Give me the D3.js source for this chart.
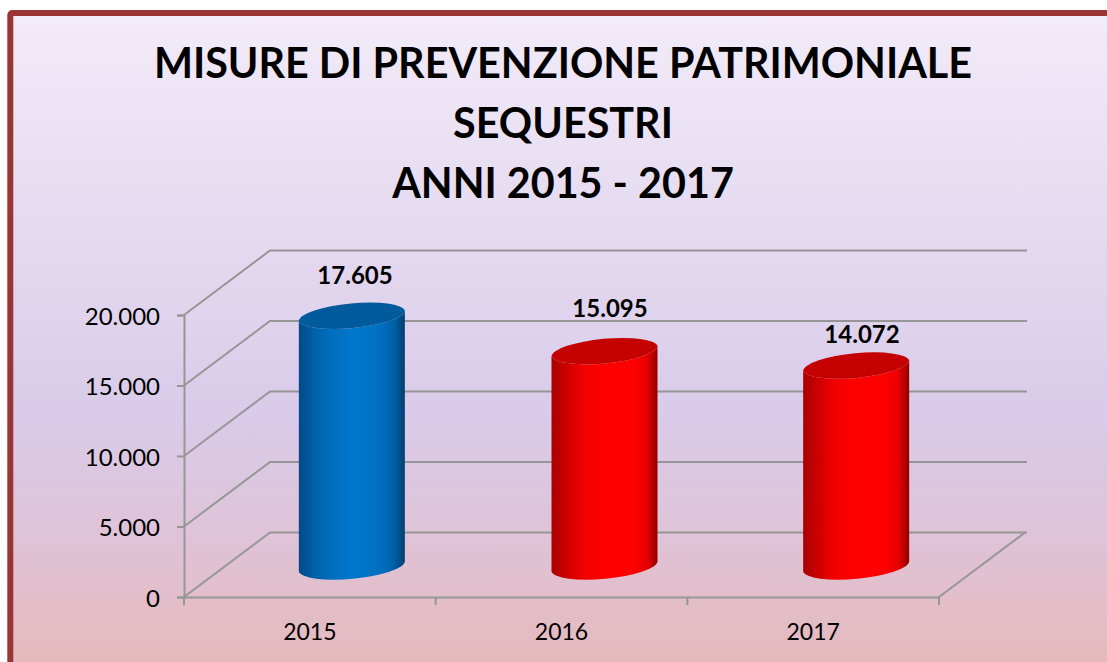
<!DOCTYPE html>
<html><head><meta charset="utf-8">
<script src="https://cdn.jsdelivr.net/npm/d3@7"></script>
<style>html,body{margin:0;padding:0;background:#fff}svg{display:block}text{font-family:Lato,sans-serif}</style>
</head><body><svg id="c" width="1107" height="662"></svg>
<script>
const categories = ["2015","2016","2017"];
const values = [17605,15095,14072];
const valueLabels = ["17.605","15.095","14.072"];
const barColors = ["blue","red","red"];
const yTicks = [0,5000,10000,15000,20000];
const titleLines = ["MISURE DI PREVENZIONE PATRIMONIALE","SEQUESTRI","ANNI 2015 - 2017"];

const svg = d3.select("#c");
const defs = svg.append("defs");
const bg = defs.append("linearGradient").attr("id","bg").attr("x1",0).attr("x2",0).attr("y1",0).attr("y2",1);
[[0,"#f2ebf8"],[0.25,"#e8def2"],[0.6,"#d9cbe9"],[0.78,"#dfc3d8"],[1,"#e6b8b8"]].forEach(s=>bg.append("stop").attr("offset",s[0]).attr("stop-color",s[1]));
const ramps = {
 blue:["#024a86","#0060a8","#006ebd","#0077cc","#006fc0","#0060a6","#023f6e"],
 red:["#a80000","#cc0000","#f20000","#ff0000","#ff0000","#e60000","#900000"]
};
const tops = {blue:"#015a9c",red:"#c40000"};
Object.keys(ramps).forEach(k=>{
  const g = defs.append("linearGradient").attr("id","g-"+k);
  const off=[0,0.14,0.3,0.5,0.78,0.9,1];
  ramps[k].forEach((c,i)=>g.append("stop").attr("offset",off[i]).attr("stop-color",c));
});

svg.append("rect").attr("x",10.3).attr("y",13).attr("width",1110).attr("height",670).attr("rx",2)
  .attr("fill","url(#bg)").attr("stroke","#9b3535").attr("stroke-width",6);

const title = svg.append("g").attr("font-weight",700).attr("font-size",41.3).attr("fill","#000").attr("text-anchor","middle");
titleLines.forEach((t,i)=>title.append("text").attr("x",563).attr("y",[78,138,198][i]).text(t));

const y = d3.scaleLinear().domain([0,20000]).range([597,315]);
const x = d3.scaleBand().domain(categories).range([184,939]);
const depthX = 86, depthY = -64.5;
const grey = "#969696";
const fmt = v => d3.format(",")(v).replace(/,/g,".");

const grid = svg.append("g").attr("stroke",grey).attr("stroke-width",2).attr("fill","none");
yTicks.forEach(v=>{
  grid.append("path").attr("d",d3.line()([[184,y(v)],[184+depthX,y(v)+depthY],[1027,y(v)+depthY]]));
});
grid.append("path").attr("d",d3.line()([[939,y(0)],[939+depthX,y(0)+depthY]]));

const yAxis = d3.axisLeft(y).tickValues(yTicks).tickFormat(fmt).tickSize(7).tickPadding(17);
const gy = svg.append("g").attr("transform","translate(184,0)").call(yAxis);
gy.selectAll("text").attr("transform","translate(0,1.5)");
const xAxis = d3.axisBottom(x).tickValues([]).tickSize(0);
const gx = svg.append("g").attr("transform","translate(0,597)").call(xAxis);
[gy,gx].forEach(g=>{g.selectAll("path,line").attr("stroke",grey).attr("stroke-width",2);g.selectAll("text").attr("font-size",24).attr("fill","#000").attr("font-family","Lato,sans-serif");});
const xt = svg.append("g");
x.domain().concat(["end"]).forEach((c,i)=>{
  const px = c==="end"? x.range()[1] : x(c);
  xt.append("line").attr("x1",px).attr("x2",px).attr("y1",597).attr("y2",605).attr("stroke",grey).attr("stroke-width",2);
});
categories.forEach(c=>svg.append("text").attr("x",x(c)+x.bandwidth()/2).attr("y",640).attr("text-anchor","middle").attr("font-size",23).attr("fill","#000").text(c));

const halfW = 53, rx = 53.3, ry = 13, rot = -5.4, tilt = 5;
const labelY = [284,317,343];
const labelX = [355,610,862];
const bars = svg.append("g");
categories.forEach((c,i)=>{
  const cx = x(c)+x.bandwidth()/2+42+(i?1:0);
  const by = y(0)-30.5, ty = y(values[i])-33;
  const L = cx-halfW, R = cx+halfW;
  const arc = `A${rx} ${ry} ${rot} 0 `;
  bars.append("path").attr("fill",`url(#g-${barColors[i]})`)
    .attr("d",`M${L} ${ty+tilt}${arc}0 ${R} ${ty-tilt}L${R} ${by-tilt}${arc}1 ${L} ${by+tilt}Z`);
  bars.append("path").attr("fill",tops[barColors[i]])
    .attr("d",`M${L} ${ty+tilt}${arc}0 ${R} ${ty-tilt}${arc}0 ${L} ${ty+tilt}Z`);
  svg.append("text").attr("x",labelX[i]).attr("y",labelY[i]).attr("text-anchor","middle")
    .attr("font-size",24).attr("font-weight",700).attr("fill","#000").text(valueLabels[i]);
});
</script></body></html>
